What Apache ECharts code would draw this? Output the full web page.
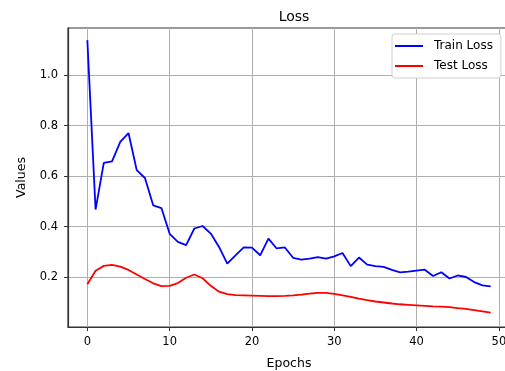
<!DOCTYPE html>
<html>
<head>
<meta charset="utf-8">
<script src="https://cdn.jsdelivr.net/npm/echarts@6/dist/echarts.min.js"></script>
<style>html,body{margin:0;padding:0;background:#fff}#c{width:505px;height:371px}</style>
</head>
<body>
<div id="c"></div>
<script>
const epochs = Array.from({length: 50}, (_, i) => i);
const trainLoss = [1.139,0.468,0.653,0.659,0.736,0.771,0.624,0.593,0.485,0.474,
  0.372,0.340,0.327,0.393,0.403,0.373,0.320,0.254,0.287,0.318,
  0.317,0.287,0.353,0.314,0.318,0.277,0.270,0.274,0.280,0.274,
  0.283,0.296,0.244,0.278,0.250,0.244,0.241,0.229,0.219,0.222,
  0.226,0.230,0.205,0.220,0.195,0.207,0.201,0.181,0.168,0.164];
const testLoss = [0.172,0.226,0.245,0.249,0.242,0.229,0.211,0.193,0.176,0.165,
  0.166,0.177,0.198,0.211,0.196,0.166,0.143,0.133,0.129,0.128,
  0.127,0.126,0.125,0.125,0.126,0.128,0.131,0.135,0.138,0.138,
  0.134,0.128,0.122,0.115,0.109,0.104,0.100,0.096,0.093,0.091,
  0.089,0.087,0.085,0.084,0.082,0.078,0.075,0.070,0.065,0.060];
const xTicks = [0,10,20,30,40,50];
const yTicks = [0.2,0.4,0.6,0.8,1.0];

const font = 'DejaVu Sans';
const chart = echarts.init(document.getElementById('c'), null, {renderer: 'canvas'});
chart.setOption({
  animation: false,
  backgroundColor: '#fff',
  title: {
    text: 'Loss', left: 289, top: 5, textAlign: 'center',
    textStyle: {fontFamily: font, fontSize: 14, fontWeight: 'normal', color: '#000'}
  },
  legend: {
    orient: 'vertical', left: 392, top: 34,
    backgroundColor: '#fff', borderColor: '#d0d0d0', borderWidth: 1, borderRadius: 3,
    padding: [6, 8, 6, 3],
    itemWidth: 28, itemHeight: 2, itemGap: 8, icon: 'rect',
    textStyle: {fontFamily: font, fontSize: 12, color: '#000', padding: [0, 0, 0, 6]},
    data: ['Train Loss', 'Test Loss']
  },
  grid: {
    left: 68, width: 442, top: 28, height: 299,
    outerBoundsMode: 'none', containLabel: false,
    show: true, borderColor: '#333', borderWidth: 1.2, backgroundColor: 'transparent'
  },
  xAxis: {
    type: 'value', min: -2.35, max: 51.35,
    name: 'Epochs', nameLocation: 'middle', nameGap: 30,
    nameTextStyle: {fontFamily: font, fontSize: 12.5, color: '#000'},
    axisLine: {show: true, onZero: false, lineStyle: {color: '#333', width: 1.2}},
    axisTick: {show: true, length: 4, lineStyle: {color: '#333'}, customValues: xTicks},
    axisLabel: {fontFamily: font, fontSize: 11.5, color: '#000', margin: 9, customValues: xTicks,
      formatter: v => String(v)},
    splitLine: {show: true, lineStyle: {color: '#b0b0b0', width: 1}}
  },
  yAxis: {
    type: 'value', min: 0.003, max: 1.187,
    name: 'Values', nameLocation: 'middle', nameGap: 40,
    nameTextStyle: {fontFamily: font, fontSize: 12.5, color: '#000'},
    axisLine: {show: true, onZero: false, lineStyle: {color: '#333', width: 1.2}},
    axisTick: {show: true, length: 4, lineStyle: {color: '#333'}, customValues: yTicks},
    axisLabel: {fontFamily: font, fontSize: 11.5, color: '#000', margin: 10, customValues: yTicks,
      formatter: v => v.toFixed(1)},
    splitLine: {show: true, lineStyle: {color: '#b0b0b0', width: 1}}
  },
  series: [
    {name: 'Train Loss', type: 'line', data: epochs.map((e, i) => [e, trainLoss[i]]),
      showSymbol: false, lineStyle: {color: '#0000ff', width: 1.8}, itemStyle: {color: '#0000ff'}},
    {name: 'Test Loss', type: 'line', data: epochs.map((e, i) => [e, testLoss[i]]),
      showSymbol: false, lineStyle: {color: '#ff0000', width: 1.8}, itemStyle: {color: '#ff0000'}}
  ]
});
</script>
</body>
</html>
